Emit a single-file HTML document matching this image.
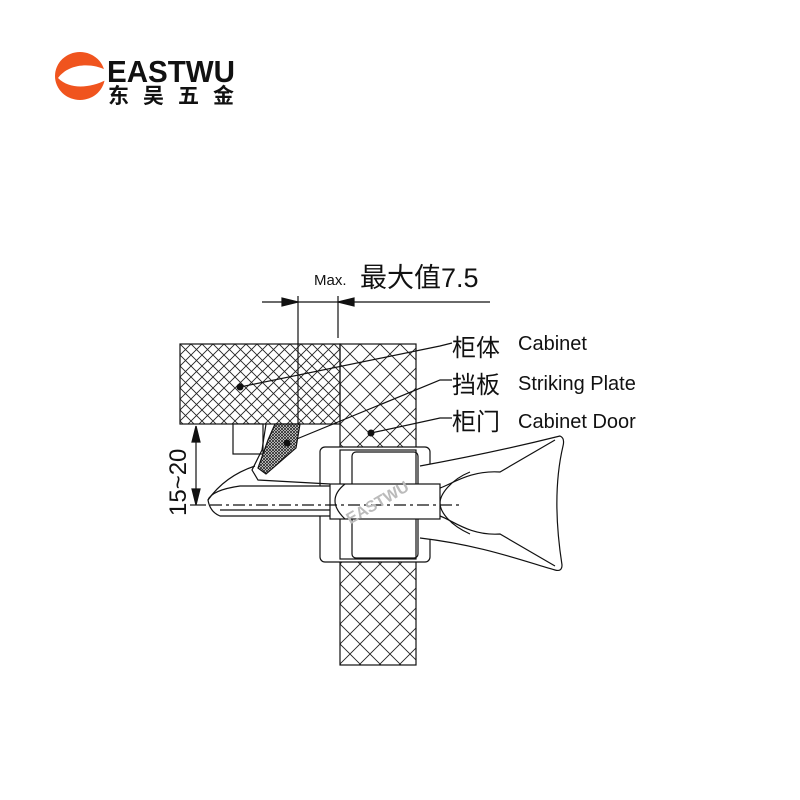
<!DOCTYPE html>
<html><head><meta charset="utf-8"><style>
html,body{margin:0;padding:0;background:#fff;}
svg{display:block;}
</style></head><body>
<svg width="800" height="800" viewBox="0 0 800 800" xmlns="http://www.w3.org/2000/svg">
<defs>
<pattern id="h1" width="11" height="11" patternUnits="userSpaceOnUse" x="180" y="344">
<path d="M0 0L11 11M11 0L0 11" stroke="#222" stroke-width="0.9"/>
</pattern>
<pattern id="h2" width="20" height="20" patternUnits="userSpaceOnUse" x="340" y="344">
<path d="M0 0L20 20M20 0L0 20" stroke="#222" stroke-width="0.9"/>
</pattern>
<pattern id="h3" width="3" height="3" patternUnits="userSpaceOnUse">
<rect width="3" height="3" fill="#fff"/><path d="M0 0L3 3M3 0L0 3" stroke="#222" stroke-width="0.8"/>
</pattern>
</defs>
<!-- logo -->
<ellipse cx="80" cy="76" rx="25" ry="24" fill="#f0541e"/>
<path d="M58 78 C68 64 90 62 106 70 L106 80 C90 88 70 90 58 78Z" fill="#fff"/>
<text x="107" y="82" font-family="Liberation Sans, sans-serif" font-weight="bold" font-size="31" fill="#111" textLength="128" lengthAdjust="spacingAndGlyphs">EASTWU</text>
<text x="108" y="103" font-family="Liberation Sans, 'Noto Sans CJK SC', sans-serif" font-weight="bold" font-size="21" fill="#111" textLength="126" lengthAdjust="spacing">东吴五金</text>

<g stroke="#111" fill="none" stroke-width="1.2">
<rect x="180" y="344" width="160" height="80" fill="url(#h1)"/>
<rect x="340" y="344" width="76" height="321" fill="url(#h2)"/>
<line x1="298" y1="296" x2="298" y2="424"/>
<line x1="338" y1="296" x2="338" y2="338"/>
<line x1="262" y1="302" x2="490" y2="302"/>
<path d="M298 302l-16-4v8z M338 302l16-4v8z" fill="#111"/>
<line x1="196" y1="426" x2="196" y2="505"/>
<path d="M196 426l-4 16h8z M196 505l-4-16h8z" fill="#111"/>
<line x1="190" y1="505" x2="206" y2="505"/>
<polyline points="240,387 440,346 452,343"/>
<polyline points="287,443 440,380 452,380"/>
<polyline points="371,433 440,418 452,418"/>
<rect x="233" y="424" width="30" height="30" fill="#fff"/>
<rect x="320" y="447" width="110" height="115" rx="5" fill="#fff"/>
<rect x="340" y="450" width="76" height="109" fill="#fff"/>
<rect x="352" y="452" width="66" height="106" rx="4"/>
<path d="M420 466 C480 455 520 446 560 436 Q565 438 563 446 C555 480 555 520 562 565 Q562 572 555 570 C520 560 480 545 420 538" fill="#fff"/>
<path d="M440 488 C452 484 470 470 500 472 L555 440 M440 516 C452 520 470 536 500 534 L555 566"/>
<path d="M470 472 C450 480 440 495 440 503 C440 512 450 525 470 534" />
<path d="M330 486 L240 486 Q212 490 208 500 Q210 512 220 516 L330 516" fill="#fff"/>
<line x1="220" y1="510" x2="330" y2="510"/>
<rect x="330" y="484" width="110" height="35" fill="#fff"/>
<path d="M345 484 Q325 500 345 519" />
<line x1="210" y1="505" x2="460" y2="505" stroke-dasharray="12 4 3 4"/>
<path d="M275 424 L300 424 L296 448 L266 474 L258 468 L268 440Z" fill="url(#h3)"/>
<path d="M266 424 L262 450 L252 470 L258 480 L330 484" />
<path d="M255 466 Q225 476 208 500"/>
</g>
<circle cx="240" cy="387" r="3.5" fill="#111"/>
<circle cx="287" cy="443" r="3.5" fill="#111"/>
<circle cx="371" cy="433" r="3.5" fill="#111"/>
<text x="343" y="512" font-family="Liberation Sans, sans-serif" font-weight="bold" font-size="16" fill="#bbb" transform="rotate(-30 370 505)">EASTWU</text>

<g font-family="Liberation Sans, 'Noto Sans CJK SC', sans-serif" fill="#111">
<text x="314" y="285" font-size="15">Max.</text>
<text x="360" y="287" font-size="27">最大值7.5</text>
<text x="452" y="356" font-size="24">柜体</text>
<text x="518" y="350" font-size="20">Cabinet</text>
<text x="452" y="393" font-size="24">挡板</text>
<text x="518" y="390" font-size="20">Striking Plate</text>
<text x="452" y="430" font-size="24">柜门</text>
<text x="518" y="428" font-size="20">Cabinet Door</text>
<text x="0" y="0" font-size="24" transform="translate(186 516) rotate(-90)">15~20</text>
</g>
</svg>
</body></html>
